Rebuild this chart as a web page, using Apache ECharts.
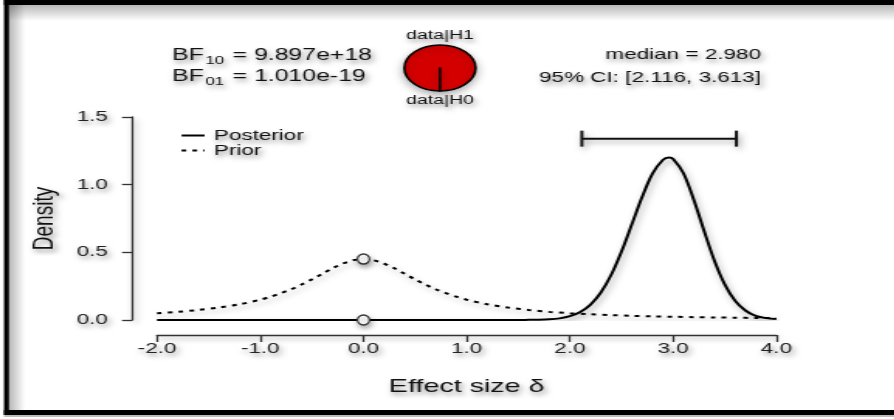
<!DOCTYPE html>
<html>
<head>
<meta charset="utf-8">
<script src="https://cdn.jsdelivr.net/npm/echarts@6/dist/echarts.min.js"></script>
<style>
html,body{margin:0;padding:0;background:#fff;overflow:hidden;width:894px;height:419px;}
#main{position:absolute;left:0;top:0;height:419px;transform-origin:0 0;}
</style>
</head>
<body>
<div id="main"></div>
<script>
// ---- data ----
const xTickValues = [-2, -1, 0, 1, 2, 3, 4];
const yTickValues = [0, 0.5, 1.0, 1.5];
const priorX = [-2.0, -1.8, -1.6, -1.4, -1.2, -1.0, -0.9, -0.8, -0.7, -0.6, -0.5, -0.4, -0.3, -0.2, -0.1, 0.0,
                0.1, 0.2, 0.3, 0.4, 0.5, 0.6, 0.7, 0.8, 0.9, 1.0, 1.2, 1.4, 1.6, 1.8, 2.0, 2.2, 2.4, 2.6, 2.8, 3.0, 3.2, 3.4, 3.6, 3.8, 4.0];
const priorY = [0.050, 0.060, 0.074, 0.092, 0.116, 0.150, 0.172, 0.198, 0.227, 0.262, 0.300, 0.341, 0.382, 0.417, 0.441, 0.450,
                0.441, 0.417, 0.382, 0.341, 0.300, 0.262, 0.227, 0.198, 0.172, 0.150, 0.116, 0.092, 0.074, 0.060, 0.050, 0.042, 0.036, 0.031, 0.027, 0.024, 0.021, 0.019, 0.017, 0.015, 0.014];
const postX = [-2.0, -1.0, 0.0, 1.0, 1.5, 1.6, 1.7, 1.8, 1.9, 2.0, 2.1, 2.2, 2.3, 2.4, 2.5, 2.6, 2.7, 2.8, 2.9, 2.96, 3.0,
               3.1, 3.2, 3.3, 3.4, 3.5, 3.6, 3.7, 3.8, 3.9, 4.0];
const postY = [0, 0, 0, 0, 0.000, 0.001, 0.002, 0.005, 0.012, 0.028, 0.059, 0.114, 0.203, 0.334, 0.506, 0.707, 0.910, 1.081, 1.182, 1.200, 1.190,
               1.084, 0.889, 0.658, 0.438, 0.263, 0.142, 0.070, 0.030, 0.014, 0.008];
const pointX = [0, 0];
const pointY = [0.450, 0.000];
const ciBounds = [2.116, 3.613];
const ciLevel = 1.34;
const pieNames = ['data|H1', 'data|H0'];
const pieValues = [1, 1.010e-19];
const bf10Label = '9.897e+18';
const bf01Label = '1.010e-19';
const medianLabel = '2.980';
const ciLabel = '[2.116, 3.613]';
const seriesNames = ['Posterior', 'Prior'];

// ---- layout (reference is stretched horizontally) ----
const S = 1.55;
const W = 894 / S;
const el = document.getElementById('main');
el.style.width = W + 'px';
el.style.transform = 'scaleX(' + S + ')';
const X = px => px / S;

const FONT = 'Liberation Sans';
const ink = '#111';
const tshadow = {textShadowColor: 'rgba(0,0,0,0.45)', textShadowBlur: 4, textShadowOffsetX: 1.5, textShadowOffsetY: 3};
const lshadow = {shadowColor: 'rgba(0,0,0,0.35)', shadowBlur: 5, shadowOffsetX: 1.5, shadowOffsetY: 3};

const chart = echarts.init(el);
const fmt1 = v => Number(v).toFixed(1);

function txt(x, y, text, size, align, rich) {
  return {
    type: 'text', x: x, y: y, silent: true,
    style: Object.assign({
      text: text, fontFamily: FONT, fontSize: size, fill: ink,
      textAlign: align, textVerticalAlign: 'middle', rich: rich
    }, tshadow)
  };
}
const bfRich = {
  a: Object.assign({fontFamily: FONT, fontSize: 16, color: ink}, tshadow),
  s: Object.assign({fontFamily: FONT, fontSize: 11, color: ink, padding: [9, 1, 0, 1]}, tshadow)
};

const option = {
  animation: false,
  backgroundColor: '#fff',
  grid: {left: X(157), right: X(118), top: 117, bottom: 99},
  legend: {
    data: seriesNames, orient: 'vertical', left: X(180), top: 128, padding: 0,
    itemWidth: X(23), itemHeight: 12, itemGap: 0,
    itemStyle: {opacity: 0},
    lineStyle: {width: 2},
    textStyle: Object.assign({fontFamily: FONT, fontSize: 14.5, color: ink, padding: [0, 0, 0, 1]}, tshadow)
  },
  xAxis: {
    type: 'value', min: xTickValues[0], max: xTickValues[xTickValues.length - 1], interval: 1,
    offset: 15,
    axisLine: {show: true, onZero: false, lineStyle: Object.assign({color: '#333', width: 1.3}, lshadow)},
    axisTick: {show: true, length: 7, lineStyle: {color: '#333', width: 1.3}},
    axisLabel: Object.assign({formatter: fmt1, fontFamily: FONT, fontSize: 14.5, color: '#222', margin: 6}, tshadow),
    splitLine: {show: false},
    name: 'Effect size δ', nameLocation: 'middle', nameGap: 42,
    nameTextStyle: Object.assign({fontFamily: FONT, fontSize: 18.5, color: ink}, tshadow)
  },
  yAxis: {
    type: 'value', min: yTickValues[0], max: yTickValues[yTickValues.length - 1], interval: 0.5,
    offset: X(25),
    axisLine: {show: true, onZero: false, lineStyle: Object.assign({color: '#333', width: 1.3}, lshadow)},
    axisTick: {show: true, length: X(10), lineStyle: {color: '#333', width: 1.3}},
    axisLabel: Object.assign({formatter: fmt1, fontFamily: FONT, fontSize: 14.5, color: '#222', margin: X(24)}, tshadow),
    splitLine: {show: false},
    name: 'Density', nameLocation: 'middle', nameGap: X(66), nameRotate: 90,
    nameTextStyle: Object.assign({fontFamily: FONT, fontSize: 19, color: ink}, tshadow)
  },
  series: [
    {
      name: seriesNames[0], type: 'line', symbol: 'none', smooth: 0.3, z: 4,
      data: postX.map((x, i) => [x, postY[i]]),
      lineStyle: Object.assign({color: '#000', width: 2}, lshadow),
      itemStyle: {color: '#000'}
    },
    {
      name: seriesNames[1], type: 'line', symbol: 'none', smooth: 0.3, z: 3,
      data: priorX.map((x, i) => [x, priorY[i]]),
      lineStyle: Object.assign({color: '#000', width: 2, type: [3, 4]}, lshadow),
      itemStyle: {color: '#000'}
    },
    {
      type: 'scatter', symbol: 'circle', symbolSize: [X(12), 10], z: 6,
      data: pointX.map((x, i) => [x, pointY[i]]),
      itemStyle: {color: '#fff', borderColor: '#333', borderWidth: 1.3, opacity: 1,
        shadowColor: 'rgba(0,0,0,0.3)', shadowBlur: 4, shadowOffsetX: 1, shadowOffsetY: 3}
    },
    {
      type: 'custom', z: 5,
      data: [[ciBounds[0], ciBounds[1], ciLevel]],
      encode: {x: [0, 1], y: 2},
      renderItem: function (params, api) {
        const a = api.coord([api.value(0), api.value(2)]);
        const b = api.coord([api.value(1), api.value(2)]);
        const cap = 8;
        const st = Object.assign({stroke: '#111', lineWidth: 2}, lshadow);
        return {
          type: 'group', children: [
            {type: 'line', shape: {x1: a[0], y1: a[1], x2: b[0], y2: b[1]}, style: st},
            {type: 'line', shape: {x1: a[0], y1: a[1] - cap, x2: a[0], y2: a[1] + cap}, style: st},
            {type: 'line', shape: {x1: b[0], y1: b[1] - cap, x2: b[0], y2: b[1] + cap}, style: st}
          ]
        };
      }
    },
    {
      type: 'pie', center: [X(440), 68], radius: 23, startAngle: 270, clockwise: true,
      label: {show: false}, labelLine: {show: false}, silent: true, minAngle: 0,
      data: pieNames.map((n, i) => ({name: n, value: pieValues[i],
        itemStyle: {color: i === 0 ? '#d40000' : '#ffffff'}})),
      itemStyle: Object.assign({borderColor: '#000', borderWidth: 1.6}, {shadowColor: 'rgba(0,0,0,0.3)', shadowBlur: 6, shadowOffsetY: 3})
    }
  ],
  graphic: [
    // frame
    {type: 'rect', silent: true, shape: {x: X(9), y: 5, width: X(16), height: 405},
      style: {fill: new echarts.graphic.LinearGradient(0, 0, 1, 0, [{offset: 0, color: 'rgba(0,0,0,0.28)'}, {offset: 1, color: 'rgba(0,0,0,0)'}])}},
    {type: 'rect', silent: true, shape: {x: X(9), y: 5, width: W, height: 16},
      style: {fill: new echarts.graphic.LinearGradient(0, 0, 0, 1, [{offset: 0, color: 'rgba(0,0,0,0.28)'}, {offset: 1, color: 'rgba(0,0,0,0)'}])}},
    {type: 'rect', silent: true, shape: {x: X(4), y: 0, width: W, height: 5}, style: {fill: '#000'}},
    {type: 'rect', silent: true, shape: {x: X(4), y: 0, width: X(5), height: 415}, style: {fill: '#000'}},
    {type: 'rect', silent: true, shape: {x: X(4), y: 410, width: W, height: 5}, style: {fill: '#000'}},
    {type: 'rect', silent: true, shape: {x: X(4), y: 415, width: W, height: 2}, style: {fill: '#bbb'}},
    // Bayes factor text
    txt(X(172), 56, '{a|BF}{s|10}{a| = ' + bf10Label + '}', 16, 'left', bfRich),
    txt(X(172), 77, '{a|BF}{s|01}{a| = ' + bf01Label + '}', 16, 'left', bfRich),
    // pie labels
    txt(X(440), 36, pieNames[0], 12.5, 'center'),
    txt(X(440), 101, pieNames[1], 12.5, 'center'),
    // median / CI
    txt(X(761), 55, 'median = ' + medianLabel, 14.5, 'right'),
    txt(X(761), 78, '95% CI: ' + ciLabel, 14.5, 'right')
  ]
};
chart.setOption(option);
</script>
</body>
</html>
